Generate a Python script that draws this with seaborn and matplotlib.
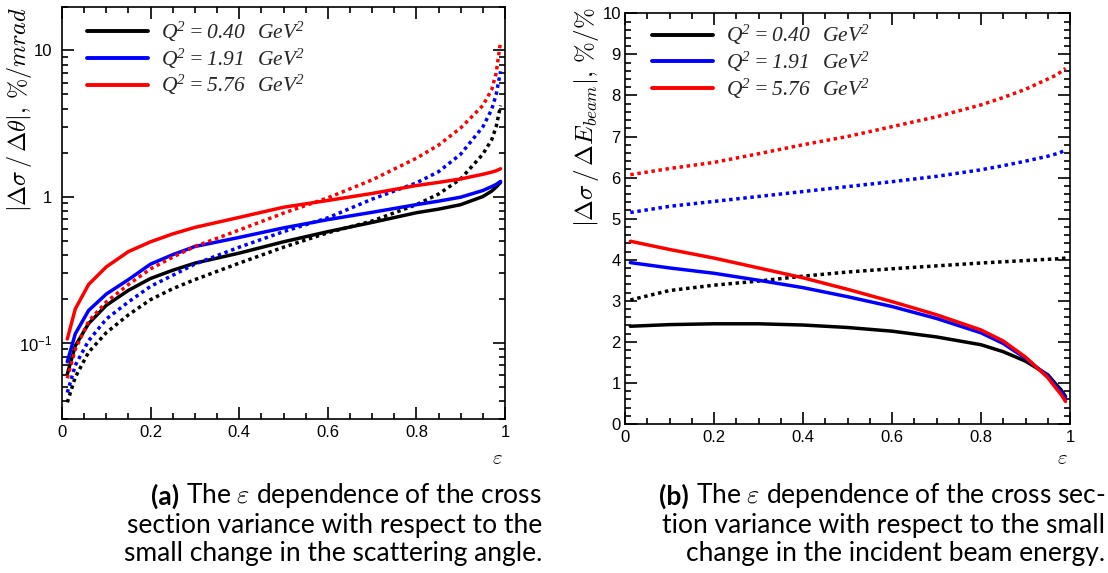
import numpy as np
import pandas as pd
import matplotlib
matplotlib.use("Agg")
import matplotlib.pyplot as plt
import seaborn as sns
from matplotlib.lines import Line2D
from matplotlib.ticker import MultipleLocator, LogLocator, FuncFormatter, NullFormatter

# ---------------- data ----------------
q2_values = ["0.40", "1.91", "5.76"]
q2_labels = [r"$\mathdefault{Q^{2} = %s\ \ GeV^{2}}$" % v for v in q2_values]
q2_colors = ["#000000", "#0000ff", "#ff0000"]

# panel (a): |dsigma/dtheta|, %/mrad
eps_a = [0.012, 0.03, 0.06, 0.1, 0.15, 0.2, 0.25, 0.3, 0.4, 0.5, 0.6, 0.7,
         0.8, 0.85, 0.9, 0.95, 0.97, 0.98, 0.99]
a_solid_040 = [0.061, 0.095, 0.135, 0.18, 0.228, 0.275, 0.313, 0.35, 0.41, 0.49,
               0.575, 0.665, 0.775, 0.82, 0.88, 1.0, 1.09, 1.16, 1.25]
a_solid_191 = [0.074, 0.115, 0.166, 0.215, 0.27, 0.345, 0.40, 0.455, 0.525, 0.61,
               0.695, 0.78, 0.88, 0.93, 0.99, 1.1, 1.17, 1.21, 1.27]
a_solid_576 = [0.106, 0.17, 0.25, 0.33, 0.42, 0.49, 0.555, 0.615, 0.72, 0.845,
               0.94, 1.05, 1.19, 1.25, 1.32, 1.42, 1.47, 1.5, 1.55]
a_dot_040 = [0.039, 0.058, 0.086, 0.117, 0.155, 0.197, 0.234, 0.27, 0.35, 0.45,
             0.565, 0.68, 0.88, 1.04, 1.32, 1.95, 2.45, 3.0, 4.2]
a_dot_191 = [0.0455, 0.07, 0.103, 0.145, 0.19, 0.243, 0.289, 0.345, 0.45, 0.575,
             0.715, 0.96, 1.24, 1.48, 1.95, 3.0, 3.95, 5.0, 7.2]
a_dot_576 = [0.057, 0.09, 0.14, 0.19, 0.25, 0.32, 0.385, 0.455, 0.59, 0.77,
             0.98, 1.3, 1.83, 2.25, 2.95, 4.2, 5.4, 7.0, 11.5]

# panel (b): |dsigma/dE_beam|, %/%
eps_b = [0.012, 0.1, 0.2, 0.3, 0.4, 0.5, 0.6, 0.7, 0.8, 0.85, 0.9, 0.95, 0.97, 0.98, 0.99]
b_solid_040 = [2.38, 2.42, 2.44, 2.44, 2.41, 2.35, 2.26, 2.12, 1.93, 1.76, 1.53, 1.2, 0.95, 0.83, 0.67]
b_solid_191 = [3.93, 3.8, 3.67, 3.5, 3.32, 3.1, 2.86, 2.57, 2.22, 1.96, 1.6, 1.17, 0.9, 0.78, 0.63]
b_solid_576 = [4.45, 4.25, 4.04, 3.8, 3.56, 3.28, 2.98, 2.66, 2.29, 2.02, 1.63, 1.13, 0.85, 0.72, 0.55]
b_dot_040 = [3.02, 3.25, 3.38, 3.48, 3.6, 3.7, 3.78, 3.85, 3.92, 3.95, 3.98, 4.01, 4.02, 4.03, 4.04]
b_dot_191 = [5.15, 5.3, 5.42, 5.54, 5.66, 5.78, 5.9, 6.03, 6.19, 6.29, 6.4, 6.52, 6.58, 6.62, 6.67]
b_dot_576 = [6.07, 6.22, 6.37, 6.58, 6.8, 7.0, 7.24, 7.48, 7.77, 7.95, 8.15, 8.4, 8.5, 8.58, 8.66]

caption_a = ["The $\\varepsilon$ dependence of the cross",
             "section variance with respect to the",
             "small change in the scattering angle."]
caption_b = ["The $\\varepsilon$ dependence of the cross sec-",
             "tion variance with respect to the small",
             "change in the incident beam energy."]


def long_frame(eps, solids, dots):
    rows = []
    for lab, s, d in zip(q2_values, solids, dots):
        for e, v in zip(eps, s):
            rows.append((e, v, lab, "solid"))
        for e, v in zip(eps, d):
            rows.append((e, v, lab, "dotted"))
    return pd.DataFrame(rows, columns=["eps", "val", "Q2", "kind"])


df_a = long_frame(eps_a, [a_solid_040, a_solid_191, a_solid_576],
                  [a_dot_040, a_dot_191, a_dot_576])
df_b = long_frame(eps_b, [b_solid_040, b_solid_191, b_solid_576],
                  [b_dot_040, b_dot_191, b_dot_576])

# ---------------- style ----------------
sns.set_theme(style="ticks")
plt.rcParams["font.family"] = ["Liberation Sans", "DejaVu Sans"]
plt.rcParams["mathtext.fontset"] = "cm"
plt.rcParams["axes.linewidth"] = 1.2

W, H = 1108, 573
fig = plt.figure(figsize=(W / 100, H / 100), dpi=100)
fig.patch.set_facecolor("white")


def px_axes(x0, y0, x1, y1):
    return fig.add_axes([x0 / W, 1 - y1 / H, (x1 - x0) / W, (y1 - y0) / H])


ax_a = px_axes(62, 6.5, 505, 419)
ax_b = px_axes(625, 13.3, 1070, 424)

palette = dict(zip(q2_values, q2_colors))
dashes = {"solid": "", "dotted": (1, 1.05)}

for ax, df in [(ax_a, df_a), (ax_b, df_b)]:
    sns.lineplot(data=df, x="eps", y="val", hue="Q2", style="kind",
                 palette=palette, dashes=dashes, linewidth=2.5,
                 estimator=None, sort=False, legend=False, ax=ax)
    ax.set_facecolor("white")
    ax.set_xlim(0, 1)
    ax.xaxis.set_major_locator(MultipleLocator(0.2))
    ax.xaxis.set_minor_locator(MultipleLocator(0.05))
    ax.xaxis.set_major_formatter(FuncFormatter(lambda v, p: "%g" % round(v, 2)))
    ax.tick_params(which="both", direction="in", top=True, right=True,
                   width=1.2, colors="black", labelsize=12)
    ax.tick_params(which="major", length=8.5)
    ax.tick_params(which="minor", length=4.3)
    ax.tick_params(axis="x", pad=4)
    for sp in ax.spines.values():
        sp.set_color("black")
        sp.set_linewidth(1.2)
        sp.set_visible(True)
    ax.grid(False)

# panel a: log axis
ax_a.set_yscale("log")
ax_a.set_ylim(0.03, 20)
ax_a.yaxis.set_major_locator(LogLocator(base=10, numticks=10))
ax_a.yaxis.set_minor_locator(LogLocator(base=10, subs=np.arange(2, 10), numticks=20))
tick_txt = {-1: r"$\mathdefault{10^{-1}}$", 0: "1", 1: "10"}
ax_a.yaxis.set_major_formatter(
    FuncFormatter(lambda v, p: tick_txt.get(int(round(np.log10(v))), "")))
ax_a.yaxis.set_minor_formatter(NullFormatter())
ax_a.tick_params(axis="y", pad=7)

# panel b: linear
ax_b.set_ylim(0, 10)
ax_b.yaxis.set_major_locator(MultipleLocator(1))
ax_b.yaxis.set_minor_locator(MultipleLocator(0.2))
ax_b.yaxis.set_major_formatter(FuncFormatter(lambda v, p: "%d" % round(v)))
ax_b.tick_params(axis="y", pad=3)

# axis labels
ylab_a = r"$|\Delta\sigma\,/\,\Delta\theta|,\,\%/mrad$"
ylab_b = r"$|\Delta\sigma\,/\,\Delta E_{beam}|,\,\%/\%$"
for ax, lab, xc, ytop, fs in [(ax_a, ylab_a, -0.095, 1.0, 17.5),
                              (ax_b, ylab_b, -0.086, 1.015, 18)]:
    ax.set_ylabel(lab, fontsize=fs, loc="top", color="black")
    ax.yaxis.set_label_coords(xc, ytop)
    ax.yaxis.label.set_verticalalignment("center")
    ax.set_xlabel(r"$\varepsilon$", fontsize=15, loc="right", color="black")

ax_a.xaxis.set_label_coords(0.995, -0.095)
ax_b.xaxis.set_label_coords(0.995, -0.083)
for ax in (ax_a, ax_b):
    ax.xaxis.label.set_verticalalignment("center")

# legends
handles = [Line2D([0], [0], color=c, lw=2.8) for c in q2_colors]
for ax, bx, by in [(ax_a, 0.0564, 0.968), (ax_b, 0.0607, 0.976)]:
    ax.legend(handles, q2_labels, loc="upper left", bbox_to_anchor=(bx, by),
              frameon=False, borderaxespad=0, borderpad=0, handlelength=2.85,
              handletextpad=0.6, labelspacing=0.12,
              prop={"family": "Liberation Serif", "style": "italic", "size": 15.5})

# captions
cap_font = {"family": ["Lato", "DejaVu Sans"], "size": 19}
fig.canvas.draw()
renderer = fig.canvas.get_renderer()
line_y = [496, 525, 554]
for xr, tag, lines in [(542, "(a)", caption_a), (1105, "(b)", caption_b)]:
    for i, (ln, yy) in enumerate(zip(lines, line_y)):
        t = fig.text(xr / W, 1 - yy / H, ln, ha="right", va="center", color="black", **cap_font)
        if i == 0:
            bb = t.get_window_extent(renderer)
            fig.text((bb.x0 - 7) / W, 1 - yy / H, tag, ha="right", va="center",
                     color="black", weight="bold", **cap_font)

fig.savefig("out.png", dpi=100, facecolor="white")
